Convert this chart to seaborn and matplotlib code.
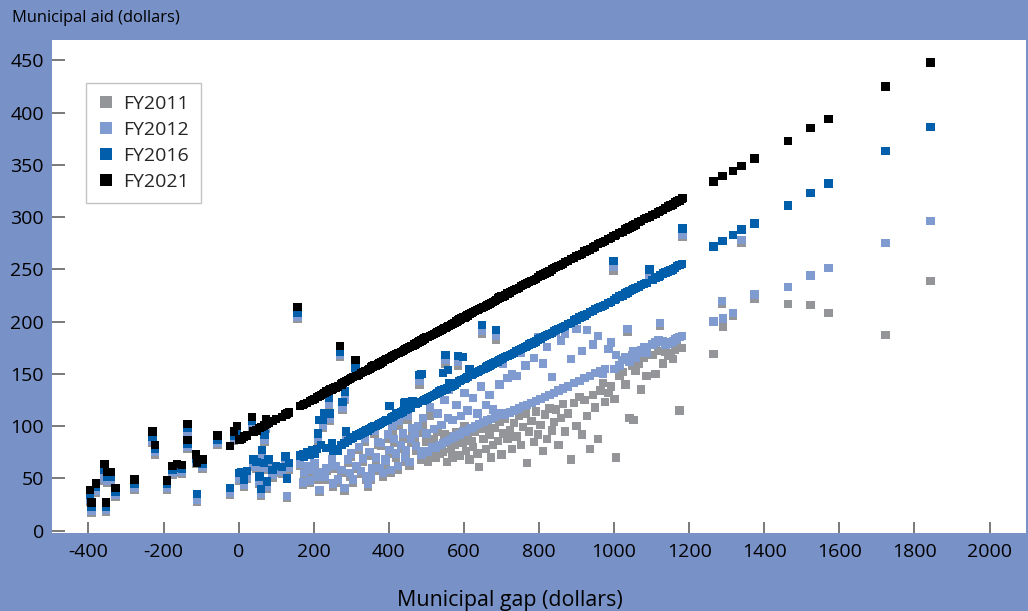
import matplotlib
matplotlib.use("Agg")
import matplotlib.pyplot as plt
import pandas as pd
import seaborn as sns
from matplotlib.lines import Line2D

# ---------------- data ----------------
gap = [
    -396, -392, -380, -357, -354, -351, -339, -328, -277, -229,
    -222, -191, -176, -164, -150, -136, -136, -113, -111, -96,
    -56, -23, -13, -5, 2, 8, 15, 22, 36, 40,
    48, 56, 59, 63, 67, 69, 73, 76, 80, 90,
    100, 115, 125, 129, 135, 157, 163, 171, 175, 182,
    190, 197, 202, 208, 211, 215, 220, 224, 229, 234,
    240, 244, 248, 252, 258, 264, 270, 274, 277, 282,
    284, 286, 291, 296, 300, 305, 311, 314, 320, 326,
    331, 336, 340, 344, 349, 353, 357, 362, 366, 371,
    375, 380, 385, 390, 393, 397, 402, 406, 410, 414,
    419, 424, 428, 433, 437, 440, 444, 446, 450, 455,
    459, 463, 468, 473, 477, 482, 487, 491, 495, 500,
    505, 510, 515, 520, 525, 530, 535, 540, 544, 548,
    551, 555, 557, 561, 565, 570, 575, 580, 584, 588,
    593, 598, 602, 606, 610, 615, 620, 625, 630, 636,
    641, 645, 648, 652, 658, 663, 668, 673, 678, 682,
    686, 690, 695, 700, 705, 710, 716, 722, 728, 734,
    740, 746, 752, 758, 764, 768, 774, 780, 786, 792,
    798, 804, 810, 816, 822, 828, 834, 840, 846, 852,
    858, 864, 870, 877, 886, 893, 900, 908, 915, 921,
    928, 935, 943, 950, 958, 964, 970, 975, 985, 992,
    998, 1001, 1005, 1014, 1022, 1030, 1036, 1041, 1048, 1052,
    1057, 1065, 1072, 1080, 1086, 1094, 1102, 1110, 1118, 1123,
    1130, 1137, 1143, 1150, 1156, 1162, 1168, 1174, 1180, 1182,
    1265, 1287, 1290, 1316, 1339, 1374, 1463, 1523, 1571, 1723,
    1843,
]

fy2011 = [
    28, 17, 36, 48, 18, 46, 46, 32, 39, 84,
    73, 39, 53, 55, 54, 92, 78, 64, 28, 59,
    82, 34, 86, 90, 48, 49, 42, 50, 99, 61,
    59, 45, 33, 70, 58, 85, 97, 40, 58, 51,
    55, 54, 64, 31, 58, 203, 62, 44, 52, 60,
    46, 55, 62, 49, 86, 37, 53, 98, 49, 57,
    119, 105, 65, 42, 59, 46, 166, 55, 116, 38,
    125, 88, 65, 52, 71, 46, 152, 59, 77, 54,
    66, 85, 49, 42, 72, 49, 57, 93, 67, 82,
    57, 81, 52, 65, 63, 88, 74, 55, 96, 84,
    70, 58, 100, 78, 88, 114, 66, 72, 106, 62,
    84, 92, 86, 76, 94, 140, 68, 100, 70, 85,
    66, 110, 72, 88, 70, 95, 74, 80, 75, 92,
    160, 66, 90, 85, 78, 70, 82, 94, 158, 72,
    87, 84, 100, 76, 90, 68, 86, 80, 95, 74,
    61, 97, 188, 88, 78, 100, 92, 70, 82, 98,
    183, 86, 104, 73, 93, 107, 88, 96, 78, 103,
    90, 110, 82, 99, 112, 65, 95, 105, 85, 114,
    92, 101, 76, 111, 88, 117, 96, 104, 116, 82,
    108, 121, 95, 112, 68, 122, 100, 128, 92, 125,
    110, 78, 130, 118, 88, 134, 141, 123, 132, 138,
    249, 126, 70, 148, 152, 140, 190, 108, 158, 106,
    153, 160, 135, 165, 148, 241, 168, 150, 172, 196,
    160, 171, 167, 170, 164, 173, 176, 115, 175, 281,
    169, 217, 195, 206, 275, 222, 217, 216, 208, 187,
    239,
]

fy2012 = [
    30, 19, 38, 50, 20, 48, 48, 34, 41, 86,
    75, 41, 55, 57, 56, 94, 80, 66, 30, 61,
    84, 36, 88, 92, 50, 51, 44, 52, 101, 63,
    61, 47, 35, 72, 60, 87, 99, 42, 60, 53,
    57, 56, 66, 33, 60, 205, 64, 46, 55, 62,
    48, 58, 65, 52, 88, 39, 56, 100, 52, 60,
    121, 107, 68, 45, 62, 49, 168, 58, 118, 41,
    127, 90, 68, 55, 74, 49, 154, 62, 80, 57,
    69, 88, 52, 45, 75, 52, 60, 96, 70, 85,
    60, 84, 55, 68, 67, 92, 77, 58, 100, 88,
    74, 62, 105, 82, 93, 117, 70, 77, 110, 66,
    88, 98, 93, 81, 100, 143, 73, 108, 76, 93,
    75, 118, 80, 97, 79, 112, 82, 101, 84, 125,
    163, 86, 108, 135, 88, 106, 90, 120, 162, 92,
    110, 95, 132, 95, 115, 97, 98, 127, 100, 112,
    102, 138, 191, 104, 120, 106, 130, 107, 116, 109,
    186, 111, 140, 112, 160, 111, 146, 113, 150, 115,
    148, 117, 170, 119, 158, 120, 178, 122, 165, 124,
    185, 126, 160, 128, 176, 130, 147, 132, 190, 134,
    182, 136, 188, 138, 164, 141, 193, 143, 172, 146,
    192, 148, 178, 151, 186, 153, 150, 155, 174, 180,
    252, 155, 168, 158, 163, 166, 193, 162, 168, 172,
    165, 170, 173, 176, 170, 244, 178, 180, 182, 199,
    181, 178, 179, 180, 181, 183, 184, 185, 186, 283,
    200, 220, 203, 208, 278, 226, 233, 244, 251, 275,
    296,
]

fy2016 = [
    34, 23, 42, 58, 23, 52, 52, 37, 45, 90,
    78, 45, 58, 60, 59, 98, 83, 69, 35, 64,
    87, 41, 91, 96, 55, 56, 49, 57, 105, 68,
    66, 52, 40, 77, 65, 92, 103, 47, 68, 58,
    62, 61, 71, 50, 65, 208, 72, 73, 71, 75,
    73, 77, 74, 78, 93, 106, 82, 106, 112, 79,
    127, 112, 84, 76, 78, 76, 171, 82, 123, 84,
    133, 95, 86, 88, 88, 89, 156, 91, 92, 93,
    94, 95, 96, 96, 97, 98, 99, 100, 100, 101,
    102, 103, 104, 105, 106, 106, 119, 108, 109, 110,
    111, 112, 112, 113, 114, 122, 123, 116, 117, 118,
    118, 124, 123, 121, 122, 149, 150, 124, 125, 126,
    127, 128, 129, 130, 131, 132, 133, 134, 151, 135,
    168, 136, 154, 141, 138, 139, 140, 141, 167, 143,
    144, 166, 145, 146, 147, 155, 149, 150, 151, 152,
    153, 154, 197, 155, 156, 157, 158, 159, 160, 161,
    192, 162, 163, 164, 165, 166, 167, 168, 169, 170,
    172, 173, 174, 175, 176, 177, 178, 179, 180, 181,
    183, 184, 185, 186, 187, 188, 189, 191, 192, 193,
    194, 195, 196, 198, 199, 201, 202, 204, 205, 206,
    207, 209, 210, 212, 213, 214, 215, 216, 218, 219,
    258, 221, 222, 224, 225, 227, 228, 229, 230, 231,
    232, 233, 235, 236, 237, 250, 240, 242, 243, 244,
    246, 247, 248, 249, 250, 251, 253, 254, 255, 289,
    272, 277, 277, 283, 288, 294, 311, 323, 332, 363,
    386,
]

fy2021 = [
    39, 27, 45, 64, 27, 56, 56, 41, 49, 95,
    82, 48, 62, 64, 63, 102, 87, 73, 65, 68,
    91, 81, 95, 100, 87, 88, 90, 91, 109, 95,
    96, 98, 99, 99, 100, 101, 107, 102, 103, 105,
    107, 109, 111, 112, 113, 214, 119, 120, 121, 122,
    124, 125, 126, 128, 128, 129, 130, 131, 132, 133,
    134, 135, 135, 136, 137, 138, 177, 140, 141, 142,
    142, 143, 144, 145, 146, 147, 163, 148, 149, 151,
    152, 153, 153, 154, 155, 156, 157, 158, 158, 159,
    160, 161, 162, 163, 164, 164, 165, 166, 167, 168,
    169, 170, 170, 171, 172, 173, 174, 174, 175, 176,
    177, 177, 178, 179, 180, 181, 182, 183, 184, 185,
    185, 186, 187, 188, 189, 190, 191, 192, 193, 194,
    194, 195, 196, 196, 197, 198, 199, 200, 201, 202,
    203, 204, 204, 205, 206, 207, 208, 209, 210, 211,
    212, 213, 213, 214, 215, 216, 217, 218, 219, 220,
    221, 222, 223, 224, 224, 225, 227, 228, 229, 230,
    231, 232, 234, 235, 236, 237, 238, 239, 240, 241,
    243, 244, 245, 246, 247, 248, 250, 251, 252, 253,
    254, 255, 257, 258, 260, 261, 263, 264, 265, 267,
    268, 269, 271, 272, 274, 275, 276, 277, 279, 280,
    282, 282, 283, 285, 286, 288, 289, 290, 291, 292,
    293, 295, 296, 298, 299, 300, 302, 303, 305, 306,
    307, 309, 310, 311, 312, 314, 315, 316, 317, 318,
    334, 339, 339, 344, 349, 356, 373, 385, 394, 425,
    448,
]

years = ["FY2011", "FY2012", "FY2016", "FY2021"]
colors = ["#939598", "#7f9bd0", "#005eab", "#000000"]
x_ticks = [-400, -200, 0, 200, 400, 600, 800, 1000, 1200, 1400, 1600, 1800, 2000]
y_ticks = [0, 50, 100, 150, 200, 250, 300, 350, 400, 450]

# ---------------- styling ----------------
sns.set_theme(style="white")
plt.rcParams["font.family"] = ["Open Sans", "DejaVu Sans"]

df = pd.concat(
    [pd.DataFrame({"gap": gap, "aid": vals, "year": yr})
     for yr, vals in zip(years, [fy2011, fy2012, fy2016, fy2021])],
    ignore_index=True,
)

bg = "#7891c7"
W, H = 1028, 611
fig = plt.figure(figsize=(W / 100, H / 100), dpi=100, facecolor=bg)
ax = fig.add_axes([52 / W, 1 - 533 / H, 974 / W, 493 / H])
ax.set_facecolor("white")

sns.scatterplot(
    data=df, x="gap", y="aid", hue="year", hue_order=years,
    palette=colors, marker="s", s=36, linewidth=0, legend=False,
    ax=ax, zorder=3,
)

ax.set_xlim(-497, 2097)
ax.set_ylim(-2.2, 469.4)
ax.set_xticks(x_ticks)
ax.set_xticklabels([str(v) for v in x_ticks])
ax.set_yticks(y_ticks)
ax.set_yticklabels([str(v) for v in y_ticks])
ax.set_xlabel("")
ax.set_ylabel("")
ax.grid(False)
for s in ax.spines.values():
    s.set_visible(False)

ax.tick_params(axis="y", direction="in", length=9.4, width=1.1, color="#555555",
               pad=5.8, labelsize=14, labelcolor="black", left=True)
ax.tick_params(axis="x", direction="in", length=8, width=1.1, color="#555555",
               pad=7.0, labelsize=14, labelcolor="black", bottom=True)

fig.text(12 / W, 1 - 18 / H, "Municipal aid (dollars)", ha="left", va="center",
         fontsize=11.9, color="black")
fig.text(510 / W, 1 - 606 / H, "Municipal gap (dollars)", ha="center",
         va="baseline", fontsize=15.4, color="black")

handles = [Line2D([], [], marker="s", color=c, linestyle="none",
                  markersize=8.6, markeredgewidth=0) for c in colors]
leg = ax.legend(handles, years, loc="upper left",
                bbox_to_anchor=(86 / W, 1 - 82.7 / H),
                bbox_transform=fig.transFigure, frameon=True, fancybox=False,
                edgecolor="#b4b4b4", fontsize=14, borderpad=0.62,
                labelspacing=0.42, handlelength=0.8, handletextpad=0.5,
                borderaxespad=0)
leg.get_frame().set_linewidth(1.0)
leg.get_frame().set_facecolor("white")

fig.savefig("out.png", dpi=100, facecolor=bg)
